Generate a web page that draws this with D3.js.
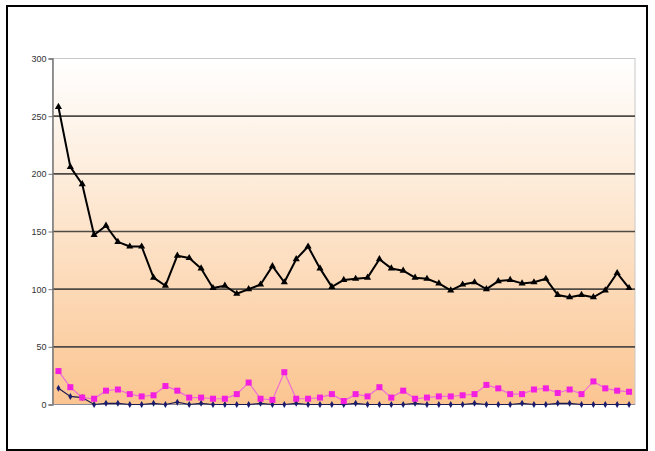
<!DOCTYPE html>
<html>
<head>
<meta charset="utf-8">
<script src="https://cdn.jsdelivr.net/npm/d3@7"></script>
<style>
  html, body { margin: 0; padding: 0; background: #ffffff; }
  svg { display: block; }
</style>
</head>
<body>
<svg id="chart" width="655" height="451"></svg>
<script>
// Series values, one entry per category
const categories = d3.range(1, 50);
const mainSeries = [258, 206, 191, 147, 155, 141, 137, 137, 110, 103, 129, 127, 118, 101, 103, 96, 100, 104, 120, 106,
                    126, 137, 118, 102, 108, 109, 110, 126, 118, 116, 110, 109, 105, 99, 104, 106, 100, 107, 108, 105,
                    106, 109, 95, 93, 95, 93, 99, 114, 101];
const pinkSeries = [29, 15, 6, 5, 12, 13, 9, 7, 8, 16, 12, 6, 6, 5, 5, 9, 19, 5, 4, 28,
                    5, 5, 6, 9, 3, 9, 7, 15, 6, 12, 5, 6, 7, 7, 8, 9, 17, 14, 9, 9,
                    13, 14, 10, 13, 9, 20, 14, 12, 11];
const navySeries = [14, 7, 6, 0, 1, 1, 0, 0, 1, 0, 2, 0, 1, 0, 0, 0, 0, 1, 0, 0,
                    1, 0, 0, 0, 0, 1, 0, 0, 0, 0, 1, 0, 0, 0, 0, 1, 0, 0, 0, 1,
                    0, 0, 1, 1, 0, 0, 0, 0, 0];
const yTicks = [0, 50, 100, 150, 200, 250, 300];

const svg = d3.select("#chart");
const plot = { left: 52.5, right: 635, top: 58.5, bottom: 404.5 };

// Outer frame
svg.append("rect")
  .attr("x", 7).attr("y", 6).attr("width", 640).attr("height", 444)
  .attr("fill", "#ffffff").attr("stroke", "#000").attr("stroke-width", 2);

// Plot background gradient
const defs = svg.append("defs");
const grad = defs.append("linearGradient").attr("id", "bg")
  .attr("x1", 0).attr("y1", 0).attr("x2", 0).attr("y2", 1);
grad.append("stop").attr("offset", "0%").attr("stop-color", "#ffffff");
grad.append("stop").attr("offset", "45%").attr("stop-color", "#fde6cf");
grad.append("stop").attr("offset", "100%").attr("stop-color", "#fbc591");

svg.append("rect")
  .attr("x", plot.left).attr("y", plot.top)
  .attr("width", plot.right - plot.left).attr("height", plot.bottom - plot.top)
  .attr("fill", "url(#bg)")
  .attr("stroke", "#c8c8c8").attr("stroke-width", 1);

const x = d3.scalePoint().domain(categories).range([plot.left, plot.right]).padding(0.5);
const y = d3.scaleLinear().domain([0, 300]).range([plot.bottom, plot.top]);

// Horizontal gridlines
svg.append("g").selectAll("line")
  .data(yTicks.filter(t => t > 0 && t < 300))
  .join("line")
  .attr("x1", plot.left).attr("x2", plot.right)
  .attr("y1", d => y(d)).attr("y2", d => y(d))
  .attr("stroke", "#4f4a44").attr("stroke-width", 1.6);

// Y axis
const yAxis = d3.axisLeft(y).tickValues(yTicks).tickSize(4).tickPadding(2);
const ya = svg.append("g").attr("transform", `translate(${plot.left},0)`).call(yAxis);
ya.select(".domain").attr("stroke", "#777").attr("stroke-width", 1.5);
ya.selectAll(".tick line").attr("stroke", "#777");
ya.selectAll(".tick text")
  .attr("fill", "#333")
  .style("font-family", "'Liberation Sans', Arial, sans-serif")
  .style("font-size", "9px");

// Baseline
svg.append("line")
  .attr("x1", plot.left).attr("x2", plot.right)
  .attr("y1", y(0)).attr("y2", y(0))
  .attr("stroke", "#8a8a9a").attr("stroke-width", 1);

const line = d3.line().x((d, i) => x(categories[i])).y(d => y(d));

// Navy series
svg.append("path").datum(navySeries)
  .attr("d", line).attr("fill", "none")
  .attr("stroke", "#1a1a50").attr("stroke-width", 1.2);
svg.append("g").selectAll("path")
  .data(navySeries).join("path")
  .attr("transform", (d, i) => `translate(${x(categories[i])},${y(d)})`)
  .attr("d", d3.symbol(d3.symbolDiamond, 14))
  .attr("fill", "#1c1c6e");

// Pink series
svg.append("path").datum(pinkSeries)
  .attr("d", line).attr("fill", "none")
  .attr("stroke", "#f06cd8").attr("stroke-width", 1.2);
svg.append("g").selectAll("rect")
  .data(pinkSeries).join("rect")
  .attr("x", (d, i) => x(categories[i]) - 3)
  .attr("y", d => y(d) - 3)
  .attr("width", 6).attr("height", 6)
  .attr("fill", "#f21ee0");

// Main series
svg.append("path").datum(mainSeries)
  .attr("d", line).attr("fill", "none")
  .attr("stroke", "#000").attr("stroke-width", 2)
  .attr("stroke-linejoin", "round");
svg.append("g").selectAll("path")
  .data(mainSeries).join("path")
  .attr("transform", (d, i) => `translate(${x(categories[i])},${y(d)})`)
  .attr("d", d3.symbol(d3.symbolTriangle, 22))
  .attr("fill", "#000");
</script>
</body>
</html>
